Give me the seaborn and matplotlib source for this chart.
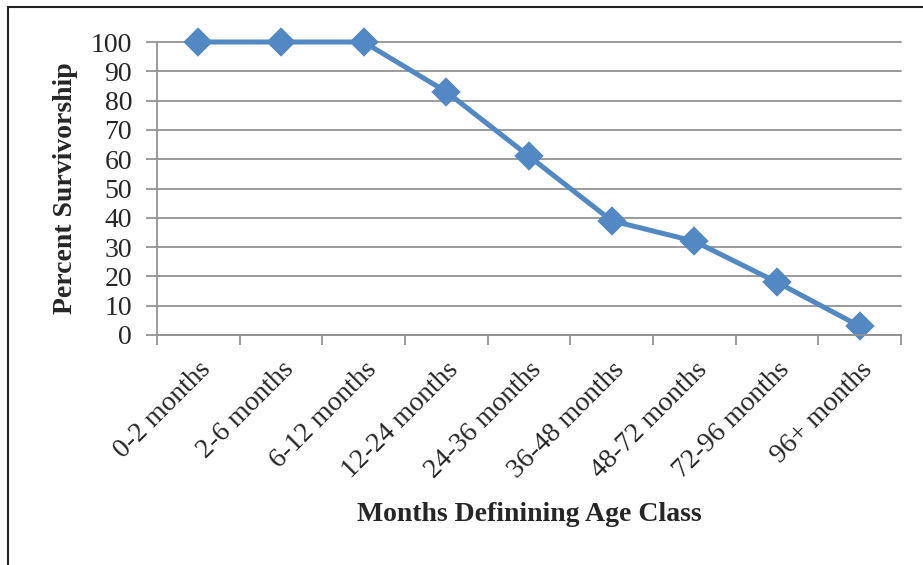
import matplotlib
matplotlib.use("Agg")
import seaborn as sns
import matplotlib.pyplot as plt
from matplotlib.patches import Rectangle

# data
age_classes = ["0-2 months", "2-6 months", "6-12 months", "12-24 months",
               "24-36 months", "36-48 months", "48-72 months", "72-96 months",
               "96+ months"]
survivorship = [100, 100, 100, 83, 61, 39, 32, 18, 3]
y_ticks = [0, 10, 20, 30, 40, 50, 60, 70, 80, 90, 100]

sns.set_style("white")
plt.rcParams["font.family"] = ["Liberation Serif", "DejaVu Serif"]

fig = plt.figure(figsize=(9.23, 5.65), dpi=100)
ax = fig.add_axes([157 / 923, 1 - 335 / 565, (901 - 157) / 923, (335 - 42) / 565])

grid_col = "#939393"
for v in y_ticks:
    ax.axhline(v, color=grid_col, lw=1.3, zorder=0)

sns.pointplot(x=age_classes, y=survivorship, ax=ax, color="#5288C4",
              markers="D", markersize=12, linewidth=3.6)
for ln in ax.lines:
    ln.set_clip_on(False)

ax.set_ylim(0, 100)
ax.set_xlim(-0.5, len(age_classes) - 0.5)
ax.set_yticks(y_ticks)
ax.set_yticklabels([str(v) for v in y_ticks], fontsize=20)
ax.set_xticks(range(len(age_classes)))
ax.set_xticklabels(age_classes, rotation=45, ha="right",
                   rotation_mode="anchor", fontsize=20)
ax.set_xticks([i - 0.5 for i in range(len(age_classes) + 1)], minor=True)
ax.tick_params(axis="x", which="major", length=0, pad=16)
ax.tick_params(axis="x", which="minor", length=7, width=1.3, color=grid_col,
               direction="out", bottom=True)
ax.tick_params(axis="y", length=8, width=1.3, color=grid_col, left=True,
               direction="out", pad=10)

for s in ["top", "right"]:
    ax.spines[s].set_visible(False)
for s in ["left", "bottom"]:
    ax.spines[s].set_color(grid_col)
    ax.spines[s].set_linewidth(1.3)

ax.set_ylabel("Percent Survivorship", fontsize=20, fontweight="bold")
ax.set_xlabel("Months Definining Age Class", fontsize=20, fontweight="bold")
ax.yaxis.set_label_coords(-0.106, 0.50)
ax.xaxis.set_label_coords(0.50, -0.57)

# outer chart frame
fig.patches.append(Rectangle((8 / 923, -0.05), 1.2, 1 - 7 / 565 + 0.05,
                             transform=fig.transFigure, fill=False,
                             edgecolor="#222222", lw=1.5))

fig.savefig("out.png", dpi=100)
